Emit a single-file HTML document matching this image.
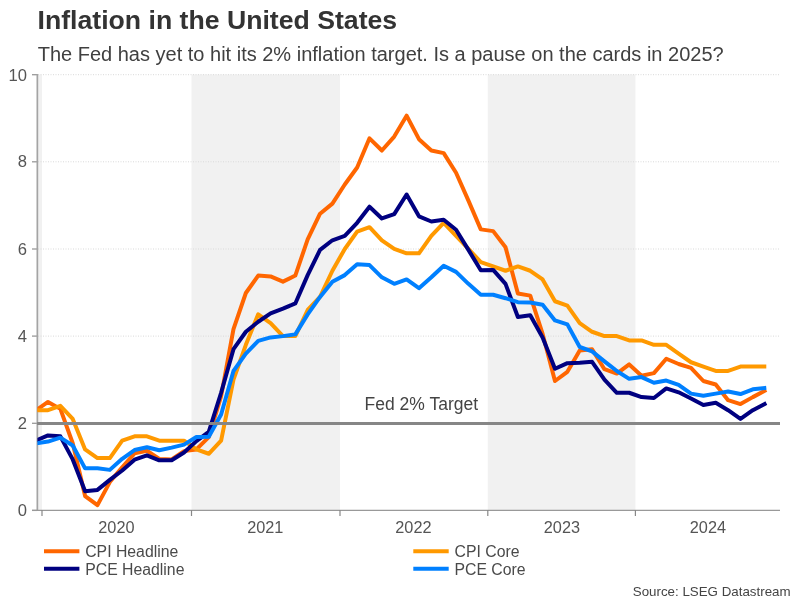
<!DOCTYPE html>
<html><head><meta charset="utf-8"><title>Inflation in the United States</title>
<style>
html,body{margin:0;padding:0;background:#fff;}
svg{display:block;}
text{will-change:transform;font-family:"Liberation Sans",sans-serif;}
.ttl{font-size:26.65px;font-weight:bold;fill:#333;}
.sub{font-size:20px;fill:#404040;}
.ax{font-size:16.6px;fill:#555;}
.xl{font-size:16.3px;fill:#555;}
.tg{font-size:17.5px;fill:#444;}
.lg{font-size:15.8px;fill:#4a4a4a;}
.src{font-size:13.33px;fill:#444;}
</style></head><body>
<svg width="801" height="601" viewBox="0 0 801 601">
<rect width="801" height="601" fill="#fff"/>
<defs><clipPath id="cp"><rect x="37.4" y="60" width="760" height="460"/></clipPath></defs>
<rect x="37.5" y="74.5" width="4.5" height="435.5" fill="#f1f1f1"/>
<rect x="191.5" y="74.5" width="148.5" height="435.5" fill="#f1f1f1"/>
<rect x="487.8" y="74.5" width="147.6" height="435.5" fill="#f1f1f1"/>
<line x1="38" x2="779" y1="423.3" y2="423.3" stroke="#d9d9d9" stroke-width="1" stroke-dasharray="1,1.5"/>
<line x1="38" x2="779" y1="336.1" y2="336.1" stroke="#d9d9d9" stroke-width="1" stroke-dasharray="1,1.5"/>
<line x1="38" x2="779" y1="249.0" y2="249.0" stroke="#d9d9d9" stroke-width="1" stroke-dasharray="1,1.5"/>
<line x1="38" x2="779" y1="161.8" y2="161.8" stroke="#d9d9d9" stroke-width="1" stroke-dasharray="1,1.5"/>
<line x1="38" x2="779" y1="74.7" y2="74.7" stroke="#d9d9d9" stroke-width="1" stroke-dasharray="1,1.5"/>
<line x1="32" x2="37.5" y1="510.4" y2="510.4" stroke="#999" stroke-width="1.3"/>
<text x="27" y="515.6" text-anchor="end" class="ax">0</text>
<line x1="32" x2="37.5" y1="423.3" y2="423.3" stroke="#999" stroke-width="1.3"/>
<text x="27" y="429.0" text-anchor="end" class="ax">2</text>
<line x1="32" x2="37.5" y1="336.1" y2="336.1" stroke="#999" stroke-width="1.3"/>
<text x="27" y="341.8" text-anchor="end" class="ax">4</text>
<line x1="32" x2="37.5" y1="249.0" y2="249.0" stroke="#999" stroke-width="1.3"/>
<text x="27" y="255.1" text-anchor="end" class="ax">6</text>
<line x1="32" x2="37.5" y1="161.8" y2="161.8" stroke="#999" stroke-width="1.3"/>
<text x="27" y="167.0" text-anchor="end" class="ax">8</text>
<line x1="32" x2="37.5" y1="74.7" y2="74.7" stroke="#999" stroke-width="1.3"/>
<text x="27" y="81.0" text-anchor="end" class="ax">10</text>
<line x1="37.35" x2="37.35" y1="74" y2="510.9" stroke="#a4a4a4" stroke-width="1.7"/>
<line x1="32" x2="780" y1="510.4" y2="510.4" stroke="#999" stroke-width="1.3"/>
<line x1="42.0" x2="42.0" y1="510" y2="516" stroke="#888" stroke-width="1.2"/>
<line x1="191.5" x2="191.5" y1="510" y2="516" stroke="#888" stroke-width="1.2"/>
<line x1="340.0" x2="340.0" y1="510" y2="516" stroke="#888" stroke-width="1.2"/>
<line x1="487.8" x2="487.8" y1="510" y2="516" stroke="#888" stroke-width="1.2"/>
<line x1="635.4" x2="635.4" y1="510" y2="516" stroke="#888" stroke-width="1.2"/>
<text x="116.4" y="533" text-anchor="middle" class="xl">2020</text>
<text x="265.3" y="533" text-anchor="middle" class="xl">2021</text>
<text x="413.4" y="533" text-anchor="middle" class="xl">2022</text>
<text x="561.9" y="533" text-anchor="middle" class="xl">2023</text>
<text x="707.9" y="533" text-anchor="middle" class="xl">2024</text>
<text x="421.3" y="410.2" text-anchor="middle" class="tg">Fed 2% Target</text>
<path d="M35.63,410.62 L48.00,401.91 L60.36,408.88 L72.73,443.30 L85.09,496.02 L97.46,505.17 L109.82,482.08 L122.19,467.27 L134.55,453.32 L146.92,450.71 L159.29,458.99 L171.65,459.42 L184.02,451.14 L196.38,449.40 L208.75,437.20 L221.11,396.25 L233.48,329.15 L245.85,292.99 L258.21,275.56 L270.58,276.43 L282.94,281.66 L295.31,275.56 L307.67,239.39 L320.04,213.69 L332.40,203.67 L344.77,184.50 L357.14,167.50 L369.50,138.31 L381.87,150.51 L394.23,136.57 L406.60,115.66 L418.96,139.18 L431.33,150.51 L443.69,153.13 L456.06,172.73 L468.43,200.62 L480.79,229.37 L493.16,231.12 L505.52,247.24 L517.89,293.42 L530.25,295.60 L542.62,333.94 L554.98,381.00 L567.35,371.85 L579.72,350.50 L592.08,349.19 L604.45,369.23 L616.81,373.59 L629.18,364.44 L641.54,375.77 L653.91,373.15 L666.28,358.78 L678.64,364.00 L691.01,367.93 L703.37,381.00 L715.74,384.48 L728.10,400.17 L740.47,404.09 L752.83,397.12 L765.20,390.58 L766.30,390.00" fill="none" stroke="#ff6600" stroke-width="4" stroke-linejoin="round" stroke-linecap="butt" clip-path="url(#cp)"/>
<path d="M35.63,410.19 L48.00,410.19 L60.36,405.83 L72.73,418.90 L85.09,449.40 L97.46,458.12 L109.82,458.12 L122.19,440.69 L134.55,436.33 L146.92,436.33 L159.29,440.69 L171.65,440.69 L184.02,440.69 L196.38,449.40 L208.75,453.76 L221.11,440.69 L233.48,379.69 L245.85,344.83 L258.21,314.33 L270.58,323.05 L282.94,336.12 L295.31,336.12 L307.67,309.98 L320.04,296.91 L332.40,270.76 L344.77,248.98 L357.14,231.55 L369.50,227.19 L381.87,240.27 L394.23,248.98 L406.60,253.34 L418.96,253.34 L431.33,235.91 L443.69,222.84 L456.06,235.91 L468.43,248.98 L480.79,262.05 L493.16,266.41 L505.52,270.76 L517.89,266.41 L530.25,270.76 L542.62,279.48 L554.98,301.26 L567.35,305.62 L579.72,323.05 L592.08,331.76 L604.45,336.12 L616.81,336.12 L629.18,340.48 L641.54,340.48 L653.91,344.83 L666.28,344.83 L678.64,353.55 L691.01,362.26 L703.37,366.62 L715.74,370.98 L728.10,370.98 L740.47,366.62 L752.83,366.62 L765.20,366.62 L766.30,366.62" fill="none" stroke="#ff9900" stroke-width="4" stroke-linejoin="round" stroke-linecap="butt" clip-path="url(#cp)"/>
<path d="M35.63,440.69 L48.00,435.46 L60.36,436.33 L72.73,459.42 L85.09,491.23 L97.46,489.92 L109.82,479.90 L122.19,470.53 L134.55,459.64 L146.92,455.28 L159.29,460.29 L171.65,460.29 L184.02,452.45 L196.38,441.12 L208.75,431.97 L221.11,392.76 L233.48,349.19 L245.85,331.76 L258.21,321.74 L270.58,313.46 L282.94,308.67 L295.31,303.44 L307.67,275.12 L320.04,249.85 L332.40,240.27 L344.77,235.91 L357.14,222.84 L369.50,206.72 L381.87,218.48 L394.23,214.12 L406.60,194.52 L418.96,216.30 L431.33,221.53 L443.69,219.79 L456.06,229.81 L468.43,249.85 L480.79,270.33 L493.16,269.89 L505.52,283.84 L517.89,316.95 L530.25,315.21 L542.62,337.43 L554.98,368.80 L567.35,363.13 L579.72,362.70 L592.08,361.83 L604.45,379.69 L616.81,392.76 L629.18,392.76 L641.54,397.12 L653.91,397.99 L666.28,388.40 L678.64,392.33 L691.01,398.43 L703.37,404.96 L715.74,402.78 L728.10,410.19 L740.47,418.90 L752.83,410.19 L765.20,403.65 L766.30,403.07" fill="none" stroke="#000080" stroke-width="4" stroke-linejoin="round" stroke-linecap="butt" clip-path="url(#cp)"/>
<path d="M35.63,443.52 L48.00,441.56 L60.36,437.64 L72.73,445.48 L85.09,468.35 L97.46,468.35 L109.82,469.88 L122.19,458.77 L134.55,450.06 L146.92,447.22 L159.29,450.27 L171.65,447.66 L184.02,444.61 L196.38,436.98 L208.75,436.77 L221.11,414.55 L233.48,370.98 L245.85,353.55 L258.21,340.91 L270.58,337.43 L282.94,336.12 L295.31,334.38 L307.67,314.33 L320.04,296.91 L332.40,281.66 L344.77,275.12 L357.14,264.23 L369.50,265.10 L381.87,277.30 L394.23,283.84 L406.60,279.48 L418.96,288.19 L431.33,277.30 L443.69,265.75 L456.06,271.85 L468.43,283.84 L480.79,294.73 L493.16,294.73 L505.52,298.21 L517.89,302.14 L530.25,302.57 L542.62,304.75 L554.98,320.43 L567.35,324.36 L579.72,347.01 L592.08,351.37 L604.45,361.39 L616.81,370.98 L629.18,378.82 L641.54,377.08 L653.91,382.74 L666.28,380.56 L678.64,384.92 L691.01,393.63 L703.37,395.81 L715.74,393.63 L728.10,391.45 L740.47,394.07 L752.83,389.28 L765.20,387.97 L766.30,387.85" fill="none" stroke="#0080ff" stroke-width="4" stroke-linejoin="round" stroke-linecap="butt" clip-path="url(#cp)"/>
<line x1="37" x2="780" y1="423.5" y2="423.5" stroke="#868686" stroke-width="2.8"/>
<line x1="44" x2="79.4" y1="551.2" y2="551.2" stroke="#ff6600" stroke-width="4"/>
<text x="85.2" y="557" class="lg">CPI Headline</text>
<line x1="44" x2="79.4" y1="568.8" y2="568.8" stroke="#000080" stroke-width="4"/>
<text x="85.2" y="575" class="lg">PCE Headline</text>
<line x1="413.3" x2="448.7" y1="551.2" y2="551.2" stroke="#ff9900" stroke-width="4"/>
<text x="454.5" y="557" class="lg">CPI Core</text>
<line x1="413.3" x2="448.7" y1="568.8" y2="568.8" stroke="#0080ff" stroke-width="4"/>
<text x="454.5" y="575" class="lg">PCE Core</text>
<text x="790.6" y="595.6" text-anchor="end" class="src">Source: LSEG Datastream</text>
<text x="37.5" y="28.8" class="ttl">Inflation in the United States</text>
<text x="37.7" y="60.8" class="sub">The Fed has yet to hit its 2% inflation target. Is a pause on the cards in 2025?</text>
</svg>
</body></html>
